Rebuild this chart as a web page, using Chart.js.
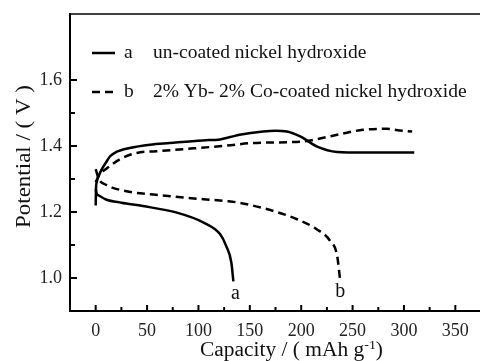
<!DOCTYPE html>
<html lang="en">
<head>
    <meta charset="UTF-8">
    <title>Charge / discharge curves</title>
    <script src="https://cdn.jsdelivr.net/npm/chart.js"></script>
    <style>
        html, body {
            margin: 0;
            padding: 0;
            background-color: #fff;
        }
        #wrap {
            width: 480px;
            height: 361px;
        }
    </style>
</head>
<body>
    <div id="wrap">
        <canvas id="graphCanvas" width="480" height="361"></canvas>
    </div>
    <script>
        // curve a: un-coated nickel hydroxide
        const chargeAx = [0, 0.3, 1, 3, 6, 10, 14, 20, 33, 53, 72, 104, 121, 131, 140, 163, 175, 186, 199, 215, 235, 260, 293, 310];
        const chargeAy = [1.22, 1.27, 1.29, 1.31, 1.33, 1.35, 1.369, 1.382, 1.394, 1.404, 1.409, 1.417, 1.420, 1.427, 1.434, 1.444, 1.446, 1.444, 1.429, 1.399, 1.382, 1.380, 1.380, 1.380];
        const dischargeAx = [0, 1, 3, 10, 25, 46, 79, 105, 121, 127, 132, 134];
        const dischargeAy = [1.27, 1.255, 1.250, 1.238, 1.228, 1.218, 1.198, 1.168, 1.133, 1.097, 1.047, 0.99];

        // curve b: 2% Yb- 2% Co-coated nickel hydroxide
        const chargeBx = [0, 4, 10, 23, 40, 59, 88, 127, 153, 202, 235, 260, 283, 296, 308];
        const chargeBy = [1.29, 1.315, 1.33, 1.359, 1.379, 1.384, 1.391, 1.401, 1.409, 1.414, 1.434, 1.449, 1.452, 1.447, 1.444];
        const dischargeBx = [0, 3, 9, 30, 56, 88, 127, 140, 173, 196, 215, 228, 235, 238];
        const dischargeBy = [1.33, 1.30, 1.284, 1.263, 1.253, 1.243, 1.233, 1.228, 1.203, 1.178, 1.148, 1.113, 1.067, 0.99];

        const xLabels = [0, 50, 100, 150, 200, 250, 300, 350];
        const xMinor = [25, 75, 125, 175, 225, 275, 325];
        const yLabels = [1.0, 1.2, 1.4, 1.6];
        const yMinor = [1.1, 1.3, 1.5];

        const legendItems = [
            { tag: 'a', text: 'un-coated nickel hydroxide', dash: [] },
            { tag: 'b', text: '2% Yb- 2% Co-coated nickel hydroxide', dash: [8, 5] }
        ];
        const curveTags = [
            { tag: 'a', x: 136, y: 0.952 },
            { tag: 'b', x: 238, y: 0.957 }
        ];

        const serif = '"Liberation Serif", "DejaVu Serif", serif';

        function toPoints(xs, ys) {
            return xs.map((x, i) => ({ x: x, y: ys[i] }));
        }

        function lineSet(xs, ys, dash) {
            return {
                data: toPoints(xs, ys),
                showLine: true,
                borderColor: '#000',
                borderWidth: 2.5,
                borderDash: dash,
                pointRadius: 0,
                fill: false,
                cubicInterpolationMode: 'monotone'
            };
        }

        const decorations = {
            id: 'decorations',
            afterDraw(chart) {
                const ctx = chart.ctx;
                const area = chart.chartArea;
                const xs = chart.scales.x;
                const ys = chart.scales.y;
                ctx.save();
                ctx.strokeStyle = '#000';
                ctx.fillStyle = '#111';

                // top frame line
                ctx.lineWidth = 1.5;
                ctx.beginPath();
                ctx.moveTo(area.left, area.top);
                ctx.lineTo(area.right, area.top);
                ctx.stroke();

                // inward tick marks
                ctx.lineWidth = 2;
                const tick = (vals, len, horiz) => {
                    vals.forEach(v => {
                        ctx.beginPath();
                        if (horiz) {
                            const px = xs.getPixelForValue(v);
                            ctx.moveTo(px, area.bottom);
                            ctx.lineTo(px, area.bottom - len);
                        } else {
                            const py = ys.getPixelForValue(v);
                            ctx.moveTo(area.left, py);
                            ctx.lineTo(area.left + len, py);
                        }
                        ctx.stroke();
                    });
                };
                tick(xLabels, 6, true);
                tick(xMinor, 4, true);
                tick(yLabels, 7, false);
                tick(yMinor, 5, false);

                // legend
                ctx.font = '19.5px ' + serif;
                ctx.textBaseline = 'middle';
                legendItems.forEach((item, i) => {
                    const y = 53 + i * 39;
                    ctx.lineWidth = 2.5;
                    ctx.setLineDash(item.dash);
                    ctx.beginPath();
                    ctx.moveTo(92, y);
                    ctx.lineTo(115, y);
                    ctx.stroke();
                    ctx.setLineDash([]);
                    ctx.textAlign = 'left';
                    ctx.fillText(item.tag, 124, y);
                    ctx.fillText(item.text, 153, y);
                });

                // curve tags
                ctx.font = '20px ' + serif;
                ctx.textAlign = 'center';
                curveTags.forEach(t => {
                    ctx.fillText(t.tag, xs.getPixelForValue(t.x), ys.getPixelForValue(t.y));
                });

                // y axis title, stretched to the reference length
                ctx.textBaseline = 'alphabetic';
                ctx.font = '20px ' + serif;
                const yTitle = 'Potential / ( V )';
                const yw = ctx.measureText(yTitle).width;
                ctx.save();
                ctx.translate(30, 156.5);
                ctx.rotate(-Math.PI / 2);
                ctx.scale(143 / yw, 1);
                ctx.textAlign = 'center';
                ctx.fillText(yTitle, 0, 0);
                ctx.restore();

                // x axis title with superscript
                const main = 'Capacity / ( mAh g';
                const sup = '-1';
                const tail = ')';
                ctx.font = '20px ' + serif;
                const w1 = ctx.measureText(main).width;
                const w3 = ctx.measureText(tail).width;
                ctx.font = '13px ' + serif;
                const w2 = ctx.measureText(sup).width;
                const total = w1 + w2 + w3;
                const k = 183 / total;
                ctx.save();
                ctx.translate(291.5, 356);
                ctx.scale(k, 1);
                const x0 = -total / 2;
                ctx.textAlign = 'left';
                ctx.font = '20px ' + serif;
                ctx.fillText(main, x0, 0);
                ctx.font = '13px ' + serif;
                ctx.fillText(sup, x0 + w1, -7);
                ctx.font = '20px ' + serif;
                ctx.fillText(tail, x0 + w1 + w2, 0);
                ctx.restore();
                ctx.restore();
            }
        };

        const ctx = document.getElementById('graphCanvas').getContext('2d');
        new Chart(ctx, {
            type: 'scatter',
            data: {
                datasets: [
                    lineSet(chargeAx, chargeAy, []),
                    lineSet(dischargeAx, dischargeAy, []),
                    lineSet(chargeBx, chargeBy, [8, 5]),
                    lineSet(dischargeBx, dischargeBy, [8, 5])
                ]
            },
            options: {
                responsive: false,
                animation: false,
                layout: { padding: { top: 14, right: 0, left: 0, bottom: 0 } },
                plugins: {
                    legend: { display: false },
                    tooltip: { enabled: false }
                },
                scales: {
                    x: {
                        type: 'linear',
                        min: -25,
                        max: 374,
                        afterBuildTicks: s => { s.ticks = xLabels.map(v => ({ value: v })); },
                        afterFit: s => { s.height = 50; s.paddingLeft = 0; s.paddingRight = 0; },
                        grid: { display: false, drawTicks: false },
                        border: { display: true, color: '#000', width: 2 },
                        ticks: {
                            padding: 9,
                            color: '#222',
                            maxRotation: 0,
                            font: { family: serif, size: 18 }
                        }
                    },
                    y: {
                        type: 'linear',
                        min: 0.9,
                        max: 1.8,
                        afterBuildTicks: s => { s.ticks = yLabels.map(v => ({ value: v })); },
                        afterFit: s => { s.width = 70; s.paddingTop = 0; s.paddingBottom = 0; },
                        grid: { display: false, drawTicks: false },
                        border: { display: true, color: '#000', width: 2 },
                        ticks: {
                            padding: 8,
                            color: '#222',
                            font: { family: serif, size: 18 },
                            callback: v => v.toFixed(1)
                        }
                    }
                }
            },
            plugins: [decorations]
        });
    </script>
</body>
</html>
